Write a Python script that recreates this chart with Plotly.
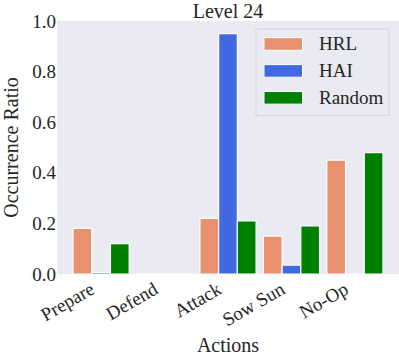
import plotly.graph_objects as go

categories = ["Prepare", "Defend", "Attack", "Sow Sun", "No-Op"]
series_names = ["HRL", "HAI", "Random"]
hrl = [0.18, 0.0, 0.22, 0.15, 0.45]
hai = [0.006, 0.0, 0.95, 0.035, 0.0]
rnd = [0.12, 0.0, 0.21, 0.19, 0.48]
colors = ["#E9906F", "#4169E1", "#008000"]
y_ticks = [0.0, 0.2, 0.4, 0.6, 0.8, 1.0]

FONT = "Liberation Serif"
TXT = "#262626"
BG = "#EAEAF2"
series_values = [hrl, hai, rnd]

fig = go.Figure()
for name, vals, col in zip(series_names, series_values, colors):
    fig.add_trace(go.Bar(
        x=list(range(len(categories))), y=vals, name=name,
        marker=dict(color=col, line=dict(color="white", width=1.2)),
        showlegend=False,
    ))

W, H = 399, 357
ml, mr, mt, mb = 57, 0, 21, 82.5
fig.update_layout(
    width=W, height=H,
    margin=dict(l=ml, r=mr, t=mt, b=mb, autoexpand=False),
    barmode="group", bargap=0.115, bargroupgap=0,
    plot_bgcolor=BG, paper_bgcolor="white",
    font=dict(family=FONT, size=19, color=TXT),
    title=dict(text="Level 24", x=0.5, xanchor="center", xref="paper",
               y=1 - 11 / H, yanchor="middle",
               font=dict(size=20, family=FONT, color=TXT)),
    xaxis=dict(
        tickmode="array", tickvals=list(range(len(categories))), ticktext=categories,
        range=[-0.695, 4.695], showgrid=False, zeroline=False, tickangle=-30,
        ticks="", tickfont=dict(size=19, family=FONT, color=TXT), showline=False,
        automargin=False, ticklabelshift=-10,
        title=dict(text="Actions", font=dict(size=20, family=FONT, color=TXT), standoff=8),
    ),
    yaxis=dict(
        range=[0, 1.0], tickvals=y_ticks, ticktext=[f"{v:.1f}" for v in y_ticks],
        showgrid=False, zeroline=False, ticks="", automargin=False,
        tickfont=dict(size=19, family=FONT, color=TXT),
        title=dict(text="Occurrence Ratio", font=dict(size=20, family=FONT, color=TXT), standoff=8),
    ),
)

# manual legend (pixel -> paper coords)
pw = W - ml - mr
ph = H - mt - mb
def px(x):
    return (x - ml) / pw
def py(y):
    return (H - mb - y) / ph

fig.add_shape(type="rect", xref="paper", yref="paper",
              x0=px(256), x1=px(389), y0=py(115.5), y1=py(29),
              fillcolor=BG, line=dict(color="#D4D4D8", width=1), layer="above")
row_y = [44, 71, 98]
for name, col, ry in zip(series_names, colors, row_y):
    fig.add_shape(type="rect", xref="paper", yref="paper",
                  x0=px(264), x1=px(302.5), y0=py(ry + 6.3), y1=py(ry - 6.3),
                  fillcolor=col, line=dict(color="white", width=1), layer="above")
    fig.add_annotation(xref="paper", yref="paper", x=px(317), y=py(ry),
                       text=name, showarrow=False, xanchor="left", yanchor="middle",
                       font=dict(size=19, family=FONT, color=TXT))

fig.write_html("out.html", config={"displayModeBar": False},
               post_script="document.body.style.margin='0';document.body.style.overflow='hidden';")
